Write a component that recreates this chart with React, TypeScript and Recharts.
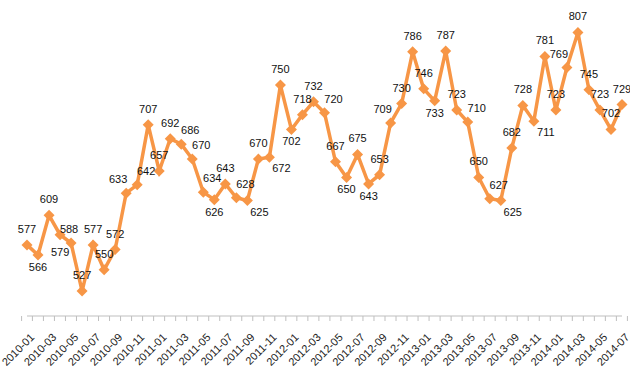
import { LineChart, Line, XAxis, YAxis, LabelList } from 'recharts'

const months = [
  '2010-01', '2010-02', '2010-03', '2010-04', '2010-05', '2010-06', '2010-07', '2010-08', '2010-09', '2010-10', '2010-11', '2010-12',
  '2011-01', '2011-02', '2011-03', '2011-04', '2011-05', '2011-06', '2011-07', '2011-08', '2011-09', '2011-10', '2011-11', '2011-12',
  '2012-01', '2012-02', '2012-03', '2012-04', '2012-05', '2012-06', '2012-07', '2012-08', '2012-09', '2012-10', '2012-11', '2012-12',
  '2013-01', '2013-02', '2013-03', '2013-04', '2013-05', '2013-06', '2013-07', '2013-08', '2013-09', '2013-10', '2013-11', '2013-12',
  '2014-01', '2014-02', '2014-03', '2014-04', '2014-05', '2014-06', '2014-07',
]

const values = [
  577, 566, 609, 588, 579, 527, 577, 550, 572, 633, 642, 707,
  657, 692, 686, 670, 634, 626, 643, 628, 625, 670, 672, 750,
  702, 718, 732, 720, 667, 650, 675, 643, 653, 709, 730, 786,
  746, 733, 787, 723, 710, 650, 627, 625, 682, 728, 711, 781,
  723, 769, 807, 745, 723, 702, 729,
]

const data = months.map((m, i) => ({ month: m, value: values[i] }))

const W = 630
const H = 370
const margin = { top: 2, right: 8, bottom: 4, left: 27 }
const plotW = W - margin.left - margin.right
const ORANGE = '#F79646'
const FONT = '"Liberation Sans", Arial, sans-serif'

// where a few data labels sit (the rest: troughs below, others above)
const labelSide: Record<string, string> = {
  '2010-04': 'right', '2010-05': 'belowLeft', '2010-06': 'above', '2010-08': 'above',
  '2010-10': 'aboveLeft', '2010-11': 'aboveRight', '2011-01': 'above', '2011-03': 'aboveRight',
  '2011-04': 'aboveRight', '2011-05': 'aboveRight', '2011-08': 'aboveRight', '2011-09': 'belowRight',
  '2011-11': 'belowRight', '2012-04': 'aboveRight', '2012-10': 'aboveLeft', '2013-05': 'aboveRight',
  '2013-07': 'aboveRight', '2013-08': 'belowRight', '2013-11': 'belowRight', '2014-01': 'above',
  '2014-02': 'aboveLeft', '2014-06': 'above',
}

const sideOffset: Record<string, [number, number]> = {
  above: [0, -12],
  below: [0, 16],
  aboveRight: [9, -10],
  aboveLeft: [-8, -10],
  belowRight: [12, 15],
  belowLeft: [-11, 13],
  right: [9, -2],
}

function MonthTick(props: any) {
  const { x, y, payload, index } = props
  const half = plotW / months.length / 2
  const tx = x + 8
  const ty = y + 22
  return (
    <g>
      {index === 0 && <line x1={x - half} x2={x - half} y1={y} y2={y + 5} stroke="#BFBFBF" />}
      <line x1={x + half} x2={x + half} y1={y} y2={y + 5} stroke="#BFBFBF" />
      {index % 2 === 0 && (
        <text
          x={tx}
          y={ty}
          transform={`rotate(-45, ${tx}, ${ty})`}
          textAnchor="end"
          fontSize={11}
          fontFamily={FONT}
          fill="#222"
        >
          {payload.value}
        </text>
      )}
    </g>
  )
}

function Diamond(props: any) {
  const { cx, cy, index } = props
  const s = 5.5
  return (
    <path
      key={index}
      d={`M${cx},${cy - s}L${cx + s},${cy}L${cx},${cy + s}L${cx - s},${cy}Z`}
      fill={ORANGE}
    />
  )
}

function ValueLabel(props: any) {
  const { x, y, value, index } = props
  const prev = values[index - 1]
  const next = values[index + 1]
  const trough = (prev === undefined || value < prev) && (next === undefined || value < next)
  const side = labelSide[months[index]] ?? (trough ? 'below' : 'above')
  const [dx, dy] = sideOffset[side]
  return (
    <text
      x={x + dx}
      y={y + dy}
      textAnchor="middle"
      fontSize={11}
      fontFamily={FONT}
      fill="#111"
    >
      {value}
    </text>
  )
}

export default function App() {
  return (
    <div style={{ position: 'absolute', left: 0, top: 0, width: W, height: H, background: '#fff' }}>
      <LineChart width={W} height={H} data={data} margin={margin}>
        <XAxis
          dataKey="month"
          interval={0}
          height={50}
          tickSize={0}
          tickMargin={0}
          tickLine={false}
          axisLine={{ stroke: '#BFBFBF' }}
          tick={<MonthTick />}
        />
        <YAxis hide domain={[500, 840]} />
        <Line
          type="linear"
          dataKey="value"
          stroke={ORANGE}
          strokeWidth={3.5}
          dot={<Diamond />}
          activeDot={false}
          isAnimationActive={false}
        >
          <LabelList dataKey="value" content={<ValueLabel />} />
        </Line>
      </LineChart>
    </div>
  )
}
